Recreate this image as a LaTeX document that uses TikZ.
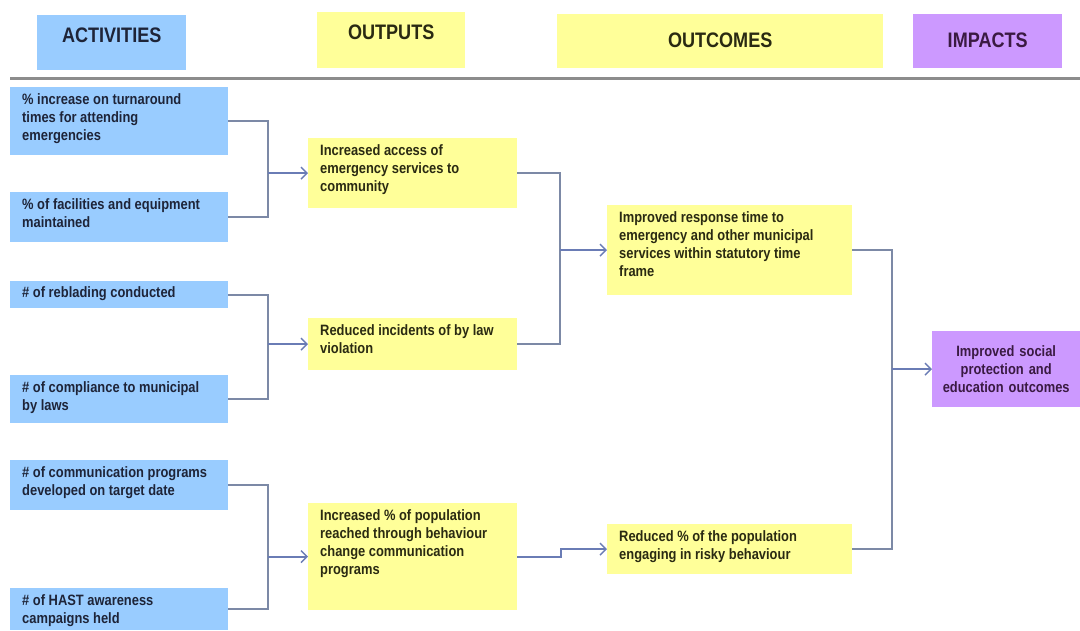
\documentclass[tikz,border=0pt]{standalone}
\usepackage{fontspec}
\setmainfont{Liberation Sans}[FakeStretch=0.86]
\usetikzlibrary{arrows.meta}

\definecolor{actblue}{HTML}{99CCFF}
\definecolor{outyellow}{HTML}{FFFF99}
\definecolor{imppurple}{HTML}{CC99FF}
\definecolor{rulegray}{HTML}{8C8C8C}
\definecolor{linkgray}{HTML}{7C89A6}
\definecolor{arrowblue}{HTML}{6A7CB5}
\definecolor{txtnavy}{HTML}{1E2438}
\definecolor{txtolive}{HTML}{2A2A12}
\definecolor{txtplum}{HTML}{3A1A42}

% top-aligned, left-aligned text block of a given inner size
\newcommand\cellbody[3]{\parbox[c][#2][t]{#1}{\raggedright\strut #3\par}}

\tikzset{
  headbox/.style={inner sep=0pt, anchor=north west,
    font=\fontsize{21}{24}\selectfont\bfseries, text height=15pt},
  cellbox/.style={inner xsep=12pt, inner ysep=5pt, anchor=north west,
    font=\fontsize{15}{18}\selectfont\bfseries},
  actcell/.style={cellbox, fill=actblue, text=txtnavy},
  outcell/.style={cellbox, fill=outyellow, text=txtolive},
  link/.style={draw=linkgray, line width=1.8pt},
  flow/.style={draw=arrowblue, line width=1.8pt,
    -{Straight Barb[length=6pt,width=12pt,line width=1.4pt]}},
}

\begin{document}
\begin{tikzpicture}[x=1pt,y=-1pt]
  \fill[white] (0,0) rectangle (1080,630);
  \useasboundingbox (0,0) rectangle (1080,630);

  % column headings
  \node[headbox, fill=actblue, text=txtnavy, minimum width=149pt, minimum height=55pt, text depth=16pt]
    (hact) at (37,15) {ACTIVITIES};
  \node[headbox, fill=outyellow, text=txtolive, minimum width=148pt, minimum height=56pt, text depth=16pt]
    (hout) at (317,12) {OUTPUTS};
  \node[headbox, fill=outyellow, text=txtolive, minimum width=326pt, minimum height=54pt, text depth=2pt]
    (hcome) at (557,14) {OUTCOMES};
  \node[headbox, fill=imppurple, text=txtplum, minimum width=149pt, minimum height=54pt, text depth=2pt]
    (himp) at (913,14) {IMPACTS};

  % separator rule under the headings
  \coordinate (ruleL) at (10,78);
  \coordinate (ruleR) at (1080,78);
  \draw[rulegray, line width=3pt] (ruleL) -- (ruleR);

  % activities
  \node[actcell] (a1) at (10,87)  {\cellbody{194pt}{58pt}{\% increase  on turnaround\\ times for attending\\ emergencies}};
  \node[actcell] (a2) at (10,192) {\cellbody{194pt}{40pt}{\% of facilities and equipment\\ maintained}};
  \node[actcell, inner ysep=4pt] (a3) at (10,281) {\cellbody{194pt}{19pt}{\# of reblading conducted}};
  \node[actcell] (a4) at (10,375) {\cellbody{194pt}{38pt}{\# of  compliance to municipal\\ by laws}};
  \node[actcell] (a5) at (10,460) {\cellbody{194pt}{40pt}{\# of communication programs\\ developed on target date}};
  \node[actcell] (a6) at (10,588) {\cellbody{194pt}{32pt}{\# of HAST awareness\\ campaigns held}};

  % outputs
  \node[outcell] (o1) at (308,138) {\cellbody{185pt}{60pt}{Increased access of\\ emergency services to\\ community}};
  \node[outcell] (o2) at (308,318) {\cellbody{185pt}{42pt}{Reduced incidents of by law\\ violation}};
  \node[outcell] (o3) at (308,503) {\cellbody{185pt}{97pt}{Increased \% of population\\ reached through behaviour\\ change communication\\ programs}};

  % outcomes
  \node[outcell] (c1) at (607,205) {\cellbody{221pt}{80pt}{Improved response time to\\ emergency and other municipal\\ services within statutory time\\ frame}};
  \node[outcell] (c2) at (607,524) {\cellbody{221pt}{40pt}{Reduced \% of  the population\\ engaging in risky behaviour}};

  % impact
  \node[anchor=north west, inner sep=0pt, fill=imppurple, text=txtplum,
        minimum width=148pt, minimum height=76pt, text width=140pt, align=center,
        font=\fontsize{15}{18}\selectfont\bfseries]
    (imp) at (932,331) {Improved social\\ protection and\\ education outcomes};

  % activities -> outputs
  \path (o1.west) ++(-40,0) coordinate (j1);
  \path (o2.west) ++(-40,0) coordinate (j2);
  \path (o3.west) ++(-40,0) coordinate (j3);
  \draw[link] (a1.east) -| (j1);
  \draw[link] (a2.east) -| (j1);
  \draw[flow] (j1) -- (o1.west);
  \draw[link] (a3.east) -| (j2);
  \draw[link] (a4.east) -| (j2);
  \draw[flow] (j2) -- (o2.west);
  \draw[link] (a5.east) -| (j3);
  \draw[link] (a6.east) -| (j3);
  \draw[flow] (j3) -- (o3.west);

  % outputs -> outcomes
  \path (c1.west) ++(-47,0) coordinate (j4);
  \draw[link] (o1.east) -| (j4);
  \draw[link] (o2.east) -| (j4);
  \draw[flow] (j4) -- (c1.west);
  \coordinate (s1) at (561,0);
  \draw[flow] (o3.east) -- (o3.east -| s1) |- (c2.west);

  % outcomes -> impact
  \path (imp.west) ++(-40,0) coordinate (j5);
  \draw[link] (c1.east) -| (j5);
  \draw[link] (c2.east) -| (j5);
  \draw[flow] (j5) -- (imp.west);
\end{tikzpicture}
\end{document}
